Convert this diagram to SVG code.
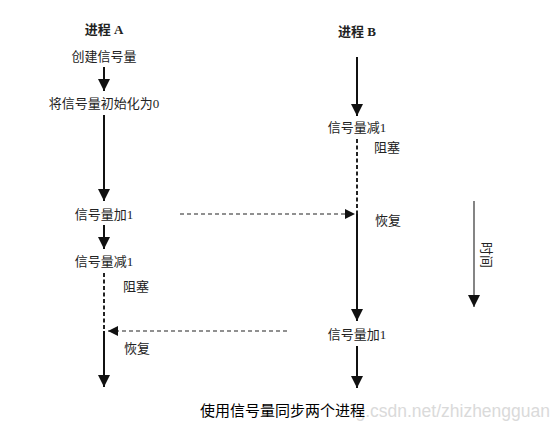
<svg xmlns="http://www.w3.org/2000/svg" width="560" height="429" viewBox="0 0 560 429">
<defs>
<marker id="ah" viewBox="0 0 10 10" refX="10" refY="5" markerWidth="10" markerHeight="10" markerUnits="userSpaceOnUse" orient="auto"><path d="M0,0 L10,5 L0,10 z" fill="#111"/></marker>
<marker id="ahb" viewBox="0 0 10 10" refX="10" refY="5" markerWidth="16" markerHeight="12" markerUnits="userSpaceOnUse" orient="auto"><path d="M0,0 L10,5 L0,10 z" fill="#111"/></marker>
<style>
.t{font-family:"Liberation Serif","Noto Sans CJK SC",serif;font-size:13px;fill:#222;}
.b{font-weight:bold;}
.s{stroke:#111;stroke-width:2;fill:none;}
.d{stroke:#222;stroke-width:1.2;fill:none;stroke-dasharray:4,3;}
.dv{stroke:#222;stroke-width:2;fill:none;stroke-dasharray:4,2.5;}
.cap{font-family:"Noto Sans CJK SC","Liberation Sans",sans-serif;font-size:15px;fill:#000;}
.wm{font-family:"Liberation Sans",sans-serif;font-size:17.5px;fill:#dadada;}
</style>
</defs>
<rect width="560" height="429" fill="#fff"/>
<text class="wm" x="550" y="417" text-anchor="end">g.csdn.net/zhizhengguan</text>
<g id="connectors">
<line class="s" x1="104" y1="67" x2="104" y2="91" marker-end="url(#ahb)"/>
<line class="s" x1="104" y1="115" x2="104" y2="201" marker-end="url(#ahb)"/>
<line class="s" x1="104" y1="225" x2="104" y2="249" marker-end="url(#ahb)"/>
<line class="dv" x1="104" y1="273" x2="104" y2="331"/>
<line class="s" x1="104" y1="331" x2="104" y2="387" marker-end="url(#ahb)"/>
<line class="s" x1="357" y1="57" x2="357" y2="116" marker-end="url(#ahb)"/>
<line class="dv" x1="357" y1="139" x2="357" y2="214"/>
<line class="s" x1="357" y1="214" x2="357" y2="321" marker-end="url(#ahb)"/>
<line class="s" x1="357" y1="346" x2="357" y2="388" marker-end="url(#ahb)"/>
<line class="d" x1="180" y1="214" x2="355" y2="214" marker-end="url(#ah)"/>
<line class="d" x1="287" y1="331" x2="108" y2="331" marker-end="url(#ah)"/>
<line stroke="#333" stroke-width="1.2" x1="474" y1="201" x2="474" y2="307" marker-end="url(#ahb)"/>
</g>
<g id="procA"><text class="t b" x="104" y="34" text-anchor="middle">进程 A</text></g>
<g id="a1"><text class="t" x="104" y="61" text-anchor="middle">创建信号量</text></g>
<g id="a2"><text class="t" x="104" y="108" text-anchor="middle">将信号量初始化为0</text></g>
<g id="a3"><text class="t" x="104" y="219" text-anchor="middle">信号量加1</text></g>
<g id="a4"><text class="t" x="104" y="266" text-anchor="middle">信号量减1</text></g>
<g id="a5"><text class="t" x="123" y="291">阻塞</text></g>
<g id="a6"><text class="t" x="124" y="353">恢复</text></g>
<g id="procB"><text class="t b" x="357" y="36" text-anchor="middle">进程 B</text></g>
<g id="b1"><text class="t" x="357" y="132" text-anchor="middle">信号量减1</text></g>
<g id="b2"><text class="t" x="374" y="152">阻塞</text></g>
<g id="b3"><text class="t" x="375" y="225">恢复</text></g>
<g id="b4"><text class="t" x="357" y="339" text-anchor="middle">信号量加1</text></g>
<g id="time"><text class="t" transform="translate(482,255) rotate(90)" text-anchor="middle">时间</text></g>
<g id="caption"><text class="cap" x="200" y="416">使用信号量同步两个进程</text></g>
</svg>
